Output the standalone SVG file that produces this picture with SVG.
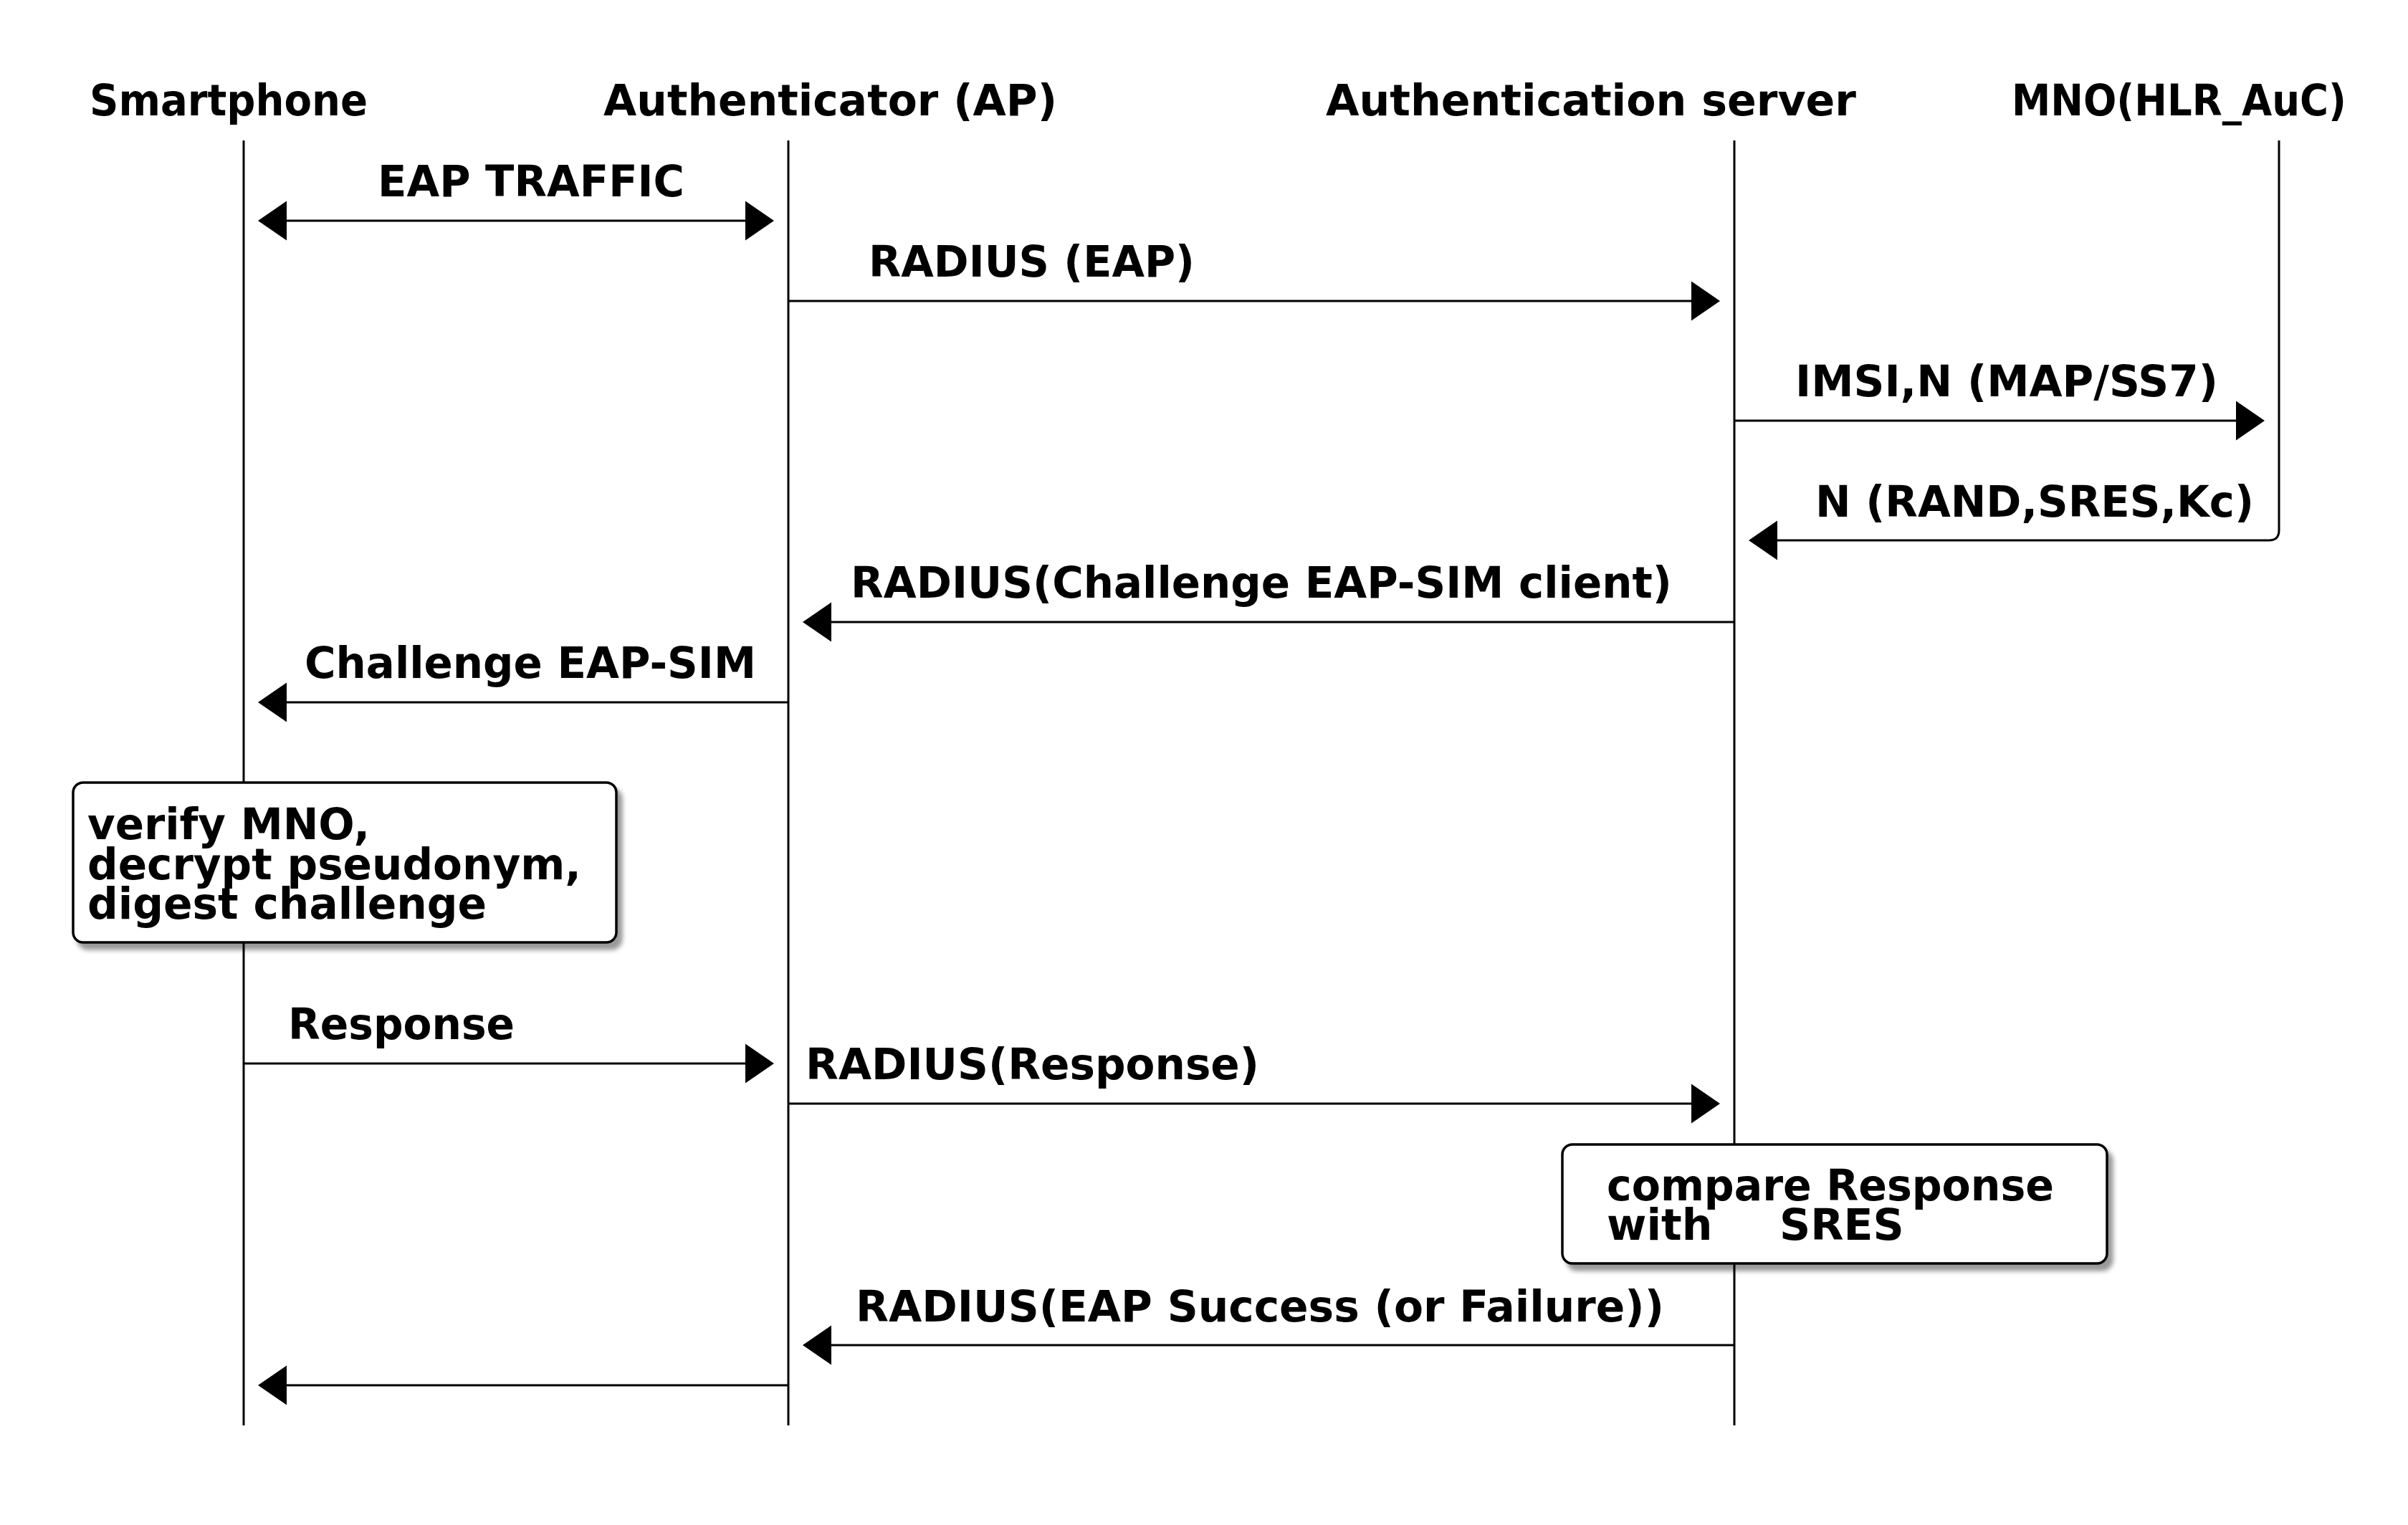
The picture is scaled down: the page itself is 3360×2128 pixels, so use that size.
<svg xmlns="http://www.w3.org/2000/svg" width="3360" height="2128" viewBox="0 0 3360 2128">
<style>
text{font-family:"DejaVu Sans","Liberation Sans",sans-serif;font-weight:bold;font-size:60px;fill:#000}
.life{stroke:#000;stroke-width:3;fill:none}
.msg{stroke:#000;stroke-width:3;fill:none;marker-end:url(#ah)}
.note{fill:#fff;stroke:#000;stroke-width:3.5;filter:url(#sh)}
</style>
<defs>
<marker id="ah" markerUnits="userSpaceOnUse" markerWidth="42" markerHeight="57" refX="0" refY="27.5" orient="auto-start-reverse" overflow="visible">
<path d="M0,0 L40,27.5 L0,55 z" fill="#000"/>
</marker>
<filter id="sh" x="-5%" y="-5%" width="115%" height="125%">
<feGaussianBlur in="SourceAlpha" stdDeviation="3"/>
<feOffset dx="7" dy="9" result="b"/>
<feFlood flood-color="#000" flood-opacity="0.4"/>
<feComposite in2="b" operator="in"/>
<feMerge><feMergeNode/><feMergeNode in="SourceGraphic"/></feMerge>
</filter>
</defs>
<rect width="3360" height="2128" fill="#fff"/>
<g id="smartphone">
<text x="125" y="161" textLength="388" lengthAdjust="spacingAndGlyphs">Smartphone</text>
<line class="life" x1="340" y1="196" x2="340" y2="1989"/>
</g>
<g id="authenticator">
<text x="842" y="161" textLength="633" lengthAdjust="spacingAndGlyphs">Authenticator (AP)</text>
<line class="life" x1="1100" y1="196" x2="1100" y2="1989"/>
</g>
<g id="auth-server">
<text x="1850" y="161" textLength="740" lengthAdjust="spacingAndGlyphs">Authentication server</text>
<line class="life" x1="2420" y1="196" x2="2420" y2="1989"/>
</g>
<g id="mno">
<text x="2807" y="161" font-size="56" textLength="467" lengthAdjust="spacingAndGlyphs">MNO(HLR_AuC)</text>
<line class="life" x1="3180" y1="196" x2="3180" y2="740"/>
</g>
<g id="connectors">
<path class="msg" d="M400,308 H1040" marker-start="url(#ah)"/>
<text x="527" y="274" textLength="428" lengthAdjust="spacingAndGlyphs">EAP TRAFFIC</text>
<path class="msg" d="M1100,420 H2360"/>
<text x="1212" y="386" textLength="455" lengthAdjust="spacingAndGlyphs">RADIUS (EAP)</text>
<path class="msg" d="M2420,587 H3120"/>
<text x="2505" y="553" textLength="590" lengthAdjust="spacingAndGlyphs">IMSI,N (MAP/SS7)</text>
<path class="msg" d="M3180,740 Q3180,754 3166,754 H2480"/>
<text x="2533" y="721" textLength="612" lengthAdjust="spacingAndGlyphs">N (RAND,SRES,Kc)</text>
<path class="msg" d="M2420,868 H1160"/>
<text x="1187" y="834" textLength="1146" lengthAdjust="spacingAndGlyphs">RADIUS(Challenge EAP-SIM client)</text>
<path class="msg" d="M1100,980 H400"/>
<text x="425" y="946" textLength="630" lengthAdjust="spacingAndGlyphs">Challenge EAP-SIM</text>
<path class="msg" d="M340,1484 H1040"/>
<text x="402" y="1450" textLength="316" lengthAdjust="spacingAndGlyphs">Response</text>
<path class="msg" d="M1100,1540 H2360"/>
<text x="1124" y="1506" textLength="633" lengthAdjust="spacingAndGlyphs">RADIUS(Response)</text>
<path class="msg" d="M2420,1877 H1160"/>
<text x="1194" y="1844" textLength="1128" lengthAdjust="spacingAndGlyphs">RADIUS(EAP Success (or Failure))</text>
<path class="msg" d="M1100,1933 H400"/>
</g>
<g id="note-smartphone">
<rect class="note" x="102" y="1092" width="758" height="223" rx="14"/>
<text x="122" y="1171" textLength="394" lengthAdjust="spacingAndGlyphs">verify MNO,</text>
<text x="122" y="1227" textLength="689" lengthAdjust="spacingAndGlyphs">decrypt pseudonym,</text>
<text x="122" y="1282" textLength="557" lengthAdjust="spacingAndGlyphs">digest challenge</text>
</g>
<g id="note-server">
<rect class="note" x="2180" y="1597" width="760" height="166" rx="14"/>
<text x="2242" y="1675" textLength="624" lengthAdjust="spacingAndGlyphs">compare Response</text>
<text x="2242" y="1730">with<tspan x="2483">SRES</tspan></text>
</g>
</svg>
